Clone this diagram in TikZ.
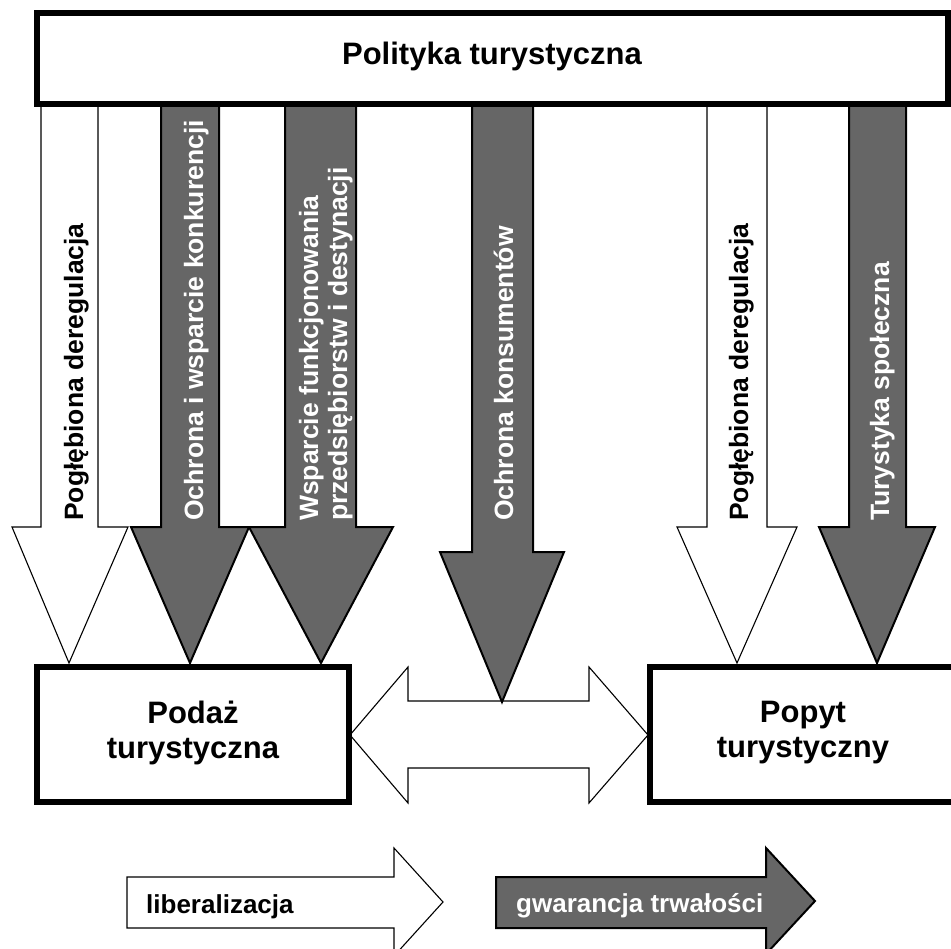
\documentclass[tikz,border=0pt]{standalone}
\usepackage{fontspec}
\setmainfont{Liberation Sans}
\definecolor{policygray}{RGB}{102,102,102}
\newcommand{\titlefont}{\bfseries\fontsize{31}{35}\selectfont}
\newcommand{\armfont}{\bfseries\fontsize{26.5}{29}\selectfont}
\newcommand{\tagfont}{\bfseries\fontsize{26}{29}\selectfont}
\tikzset{
  whitearrow/.style={draw=black, fill=white, line width=1.1pt, line join=miter},
  grayarrow/.style={draw=black, fill=policygray, line width=2pt, line join=miter},
  bigbox/.style={draw=black, fill=white, line width=6.5pt},
  armlabel/.style={rotate=90, anchor=base west, inner sep=0pt, font=\armfont},
  boxlabel/.style={align=center, inner sep=0pt, font=\titlefont},
}
\begin{document}
\begin{tikzpicture}[x=1pt, y=-1pt]
\useasboundingbox (0,0) rectangle (951,949);

% vertical policy arrows (drawn first, the top box covers their upper ends)
\draw[whitearrow] (41,100) -- (41,527) -- (12,527) -- (69,663) -- (128,527) -- (98,527) -- (98,100) -- cycle;
\draw[grayarrow]  (161,100) -- (161,527) -- (131,527) -- (190,663) -- (249,527) -- (219,527) -- (219,100) -- cycle;
\draw[grayarrow]  (285,100) -- (285,527) -- (249,527) -- (321,663) -- (393,527) -- (356,527) -- (356,100) -- cycle;
\draw[whitearrow] (350,735) -- (408,667) -- (408,701) -- (589,701) -- (589,667) -- (648,735)
                  -- (589,803) -- (589,768) -- (408,768) -- (408,803) -- cycle;
\draw[grayarrow]  (472,100) -- (472,552) -- (440,552) -- (502,702) -- (564,552) -- (533,552) -- (533,100) -- cycle;
\draw[whitearrow] (707,100) -- (707,527) -- (677,527) -- (737,663) -- (797,527) -- (767,527) -- (767,100) -- cycle;
\draw[grayarrow]  (849,100) -- (849,527) -- (819,527) -- (877,663) -- (935,527) -- (906,527) -- (906,100) -- cycle;

% labels along the arrows
\node[armlabel] (dereg1) at (83,521) {Pogłębiona deregulacja};
\node[armlabel, text=white] (konk) at (203,521) {Ochrona i wsparcie konkurencji};
\node[armlabel, text=white] (wsp1) at (318,521) {Wsparcie funkcjonowania};
\node[armlabel, text=white] (wsp2) at (347,521) {przedsiębiorstw i destynacji};
\node[armlabel, text=white] (kons) at (513,521) {Ochrona konsumentów};
\node[armlabel] (dereg2) at (748,521) {Pogłębiona deregulacja};
\node[armlabel, text=white] (spol) at (889,521) {Turystyka społeczna};

% boxes
\draw[bigbox] (37,13) rectangle (948,104);
\node[boxlabel] (polityka) at (492,56) {Polityka turystyczna};
\draw[bigbox] (37,667) rectangle (349,802);
\node[boxlabel] (podaz) at (193,733) {Podaż\\turystyczna};
\draw[bigbox] (650,667) rectangle (958,802);
\node[boxlabel] (popyt) at (803,733) {Popyt\\turystyczny};

% legend arrows
\draw[whitearrow] (127,877) -- (394,877) -- (394,848) -- (443,902) -- (394,956) -- (394,928) -- (127,928) -- cycle;
\node[anchor=base west, inner sep=0pt, font=\tagfont] (lib) at (146,913) {liberalizacja};
\draw[grayarrow] (496,877) -- (766,877) -- (766,848) -- (815,901) -- (766,954) -- (766,928) -- (496,928) -- cycle;
\node[anchor=base west, inner sep=0pt, font=\tagfont, text=white] (gwar) at (516,912) {gwarancja trwałości};
\end{tikzpicture}
\end{document}
